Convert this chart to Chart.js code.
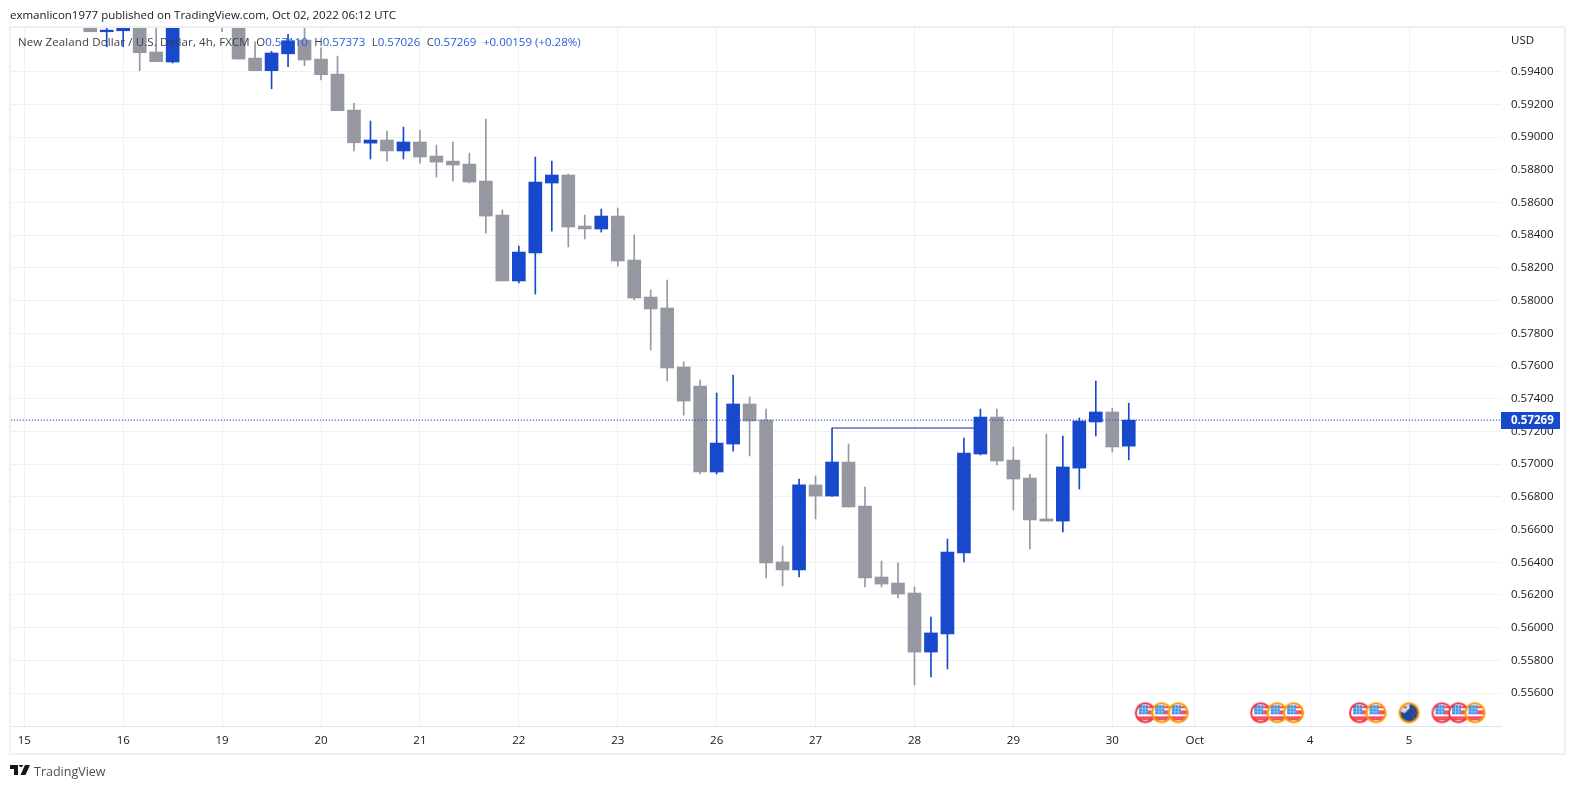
<!DOCTYPE html>
<html>
<head>
<meta charset="utf-8">
<title>NZDUSD 4h</title>
<script src="https://cdn.jsdelivr.net/npm/chart.js@4"></script>
<style>
  html, body { margin: 0; padding: 0; background: #fff; overflow: hidden; }
  body { width: 1575px; height: 789px; position: relative; font-family: "Open Sans", sans-serif; color: #131722; }
  canvas { position: absolute; left: 0; top: 0; }
  .txt { position: absolute; white-space: pre; font-size: 11.5px; line-height: 16px; }
  .frame { position: absolute; left: 9px; top: 26px; width: 1553px; height: 725px; border: 2px solid #eef0f6; pointer-events: none; }
  #legend { color: #3a3e4a; }
  #legend span { letter-spacing: 0.12px; }
  #legend b { font-weight: normal; color: #2a5bd7; }
  #legend i { font-style: normal; margin-left: 6.500px; }
</style>
</head>
<body>
<canvas id="chart" width="1575" height="789"></canvas>
<div class="frame"></div>
<div class="txt" style="left:10px;top:7px">exmanlicon1977 published on TradingView.com, Oct 02, 2022 06:12 UTC</div>
<div class="txt" id="legend" style="left:18px;top:34px"><span>New Zealand Dollar / U.S. Dollar, 4h, FXCM</span><i>O<b>0.57110</b></i><i>H<b>0.57373</b></i><i>L<b>0.57026</b></i><i>C<b>0.57269</b></i><i><b>+0.00159 (+0.28%)</b></i></div>
<div class="txt" style="left:1511px;top:32px">USD</div>
<svg style="position:absolute;left:10px;top:765px" width="20" height="11" viewBox="0 0 20 11">
  <path d="M0 0h8v10H4V4H0zM9 0a2 2 0 1 1 0 .01zM15 0h5l-4.500 10h-5z" fill="#131722"/>
</svg>
<div class="txt" style="left:34px;top:764px;font-size:12.5px;color:#4a4e59">TradingView</div>

<script>
// bar slots: 0 is the 4h bar on the 15th gridline, the data starts at slot 4
const firstBar = 4;
const opens = [0.59691,0.59644,0.5965,0.59716,0.5952,0.59459,0.5977,0.5972,0.598,0.597,0.59483,0.59406,0.59509,0.59593,0.59477,0.59385,0.59165,0.58963,0.58982,0.58915,0.5897,0.58884,0.58853,0.58835,0.58731,0.58523,0.5812,0.58291,0.58719,0.58768,0.58456,0.58438,0.58517,0.58248,0.58022,0.57955,0.57594,0.57478,0.56952,0.57123,0.57368,0.5727,0.56402,0.56353,0.56873,0.56805,0.57013,0.56744,0.5631,0.56273,0.56212,0.55851,0.55962,0.56457,0.57062,0.57288,0.57025,0.56915,0.56665,0.56652,0.56976,0.57258,0.57319,0.5711];
const highs = [0.59716,0.59685,0.5971,0.5976,0.59665,0.5974,0.598,0.5985,0.5983,0.5972,0.59583,0.59524,0.59628,0.5969,0.59546,0.59495,0.59206,0.59098,0.59037,0.59061,0.59043,0.58951,0.5897,0.58902,0.5911,0.58554,0.58334,0.58878,0.58853,0.58774,0.58523,0.5856,0.58566,0.58401,0.58065,0.58126,0.57625,0.57514,0.57435,0.57545,0.57411,0.57337,0.565,0.56909,0.56928,0.57221,0.57123,0.5686,0.56408,0.56396,0.56249,0.56065,0.56542,0.5716,0.57337,0.57337,0.57105,0.5694,0.57184,0.57172,0.57282,0.57508,0.57343,0.57373];
const lows = [0.59644,0.59552,0.59552,0.59406,0.59461,0.59453,0.597,0.5969,0.59644,0.59477,0.59406,0.59295,0.5943,0.59436,0.59349,0.59161,0.58916,0.58866,0.58853,0.58866,0.58841,0.58756,0.58731,0.58719,0.58413,0.5812,0.58108,0.5804,0.58425,0.58328,0.58377,0.58419,0.58211,0.58004,0.57698,0.57508,0.573,0.5694,0.5694,0.5708,0.5705,0.56304,0.56255,0.5631,0.56665,0.56805,0.56738,0.56249,0.56249,0.56182,0.5565,0.55699,0.55748,0.56402,0.57056,0.56995,0.5672,0.56481,0.56652,0.56585,0.56848,0.57172,0.57074,0.57026];
const closes = [0.59644,0.59654,0.59685,0.59516,0.59461,0.59716,0.5972,0.598,0.597,0.59477,0.59406,0.59514,0.59589,0.59471,0.59381,0.59161,0.58965,0.58982,0.58915,0.5897,0.58878,0.58847,0.58829,0.58725,0.58517,0.5812,0.58297,0.58725,0.58768,0.5845,0.58438,0.58517,0.58242,0.58016,0.57949,0.57588,0.57386,0.56952,0.57129,0.57368,0.57264,0.56396,0.56353,0.56873,0.56805,0.57013,0.56738,0.56304,0.56267,0.56206,0.55851,0.55968,0.56463,0.57068,0.57288,0.57019,0.56909,0.56659,0.56652,0.56983,0.57264,0.57319,0.57105,0.57269];

// x axis labels and the slot they sit on
const dayLabels = ["15","16","19","20","21","22","23","26","27","28","29","30","Oct","4","5"];
const daySlots = [0,6,12,18,24,30,36,42,48,54,60,66,71,78,84];
const priceTicks = [0.556,0.558,0.56,0.562,0.564,0.566,0.568,0.57,0.572,0.574,0.576,0.578,0.58,0.582,0.584,0.586,0.588,0.59,0.592,0.594];

// trendline drawn on the chart, between two slots
const levelSlots = [49,58];
const levelPrice = 0.57221;

// economic calendar markers
const eventPrice = 0.5548;
const usHighSlots = [68,75,81,86,87];
const usMedSlots = [69,70,76,77,82,88];
const nzMedSlots = [84];

const BLUE = "#1848cc";
const GREY = "#9598a1";
const RED = "#f23645";
const ORANGE = "#ff9800";
const GRID = "#f0f1f4";

const slots = opens.map((o, i) => firstBar + i);
const candleColors = opens.map((o, i) => closes[i] >= o ? BLUE : GREY);
const lastClose = closes[closes.length - 1];

function flagCanvas(ring, paint) {
  const c = document.createElement("canvas");
  c.width = c.height = 23;
  const g = c.getContext("2d");
  g.beginPath(); g.arc(11.5, 11.5, 10, 0, Math.PI * 2); g.fillStyle = "#fff"; g.fill();
  g.save(); g.clip();
  paint(g);
  g.restore();
  g.beginPath(); g.arc(11.5, 11.5, 9.5, 0, Math.PI * 2); g.strokeStyle = ring; g.lineWidth = 2; g.stroke();
  return c;
}

function usFlag(ring) {
  return flagCanvas(ring, g => {
    g.fillStyle = "#f7525f";
    g.fillRect(13, 5, 9, 2); g.fillRect(13, 9, 9, 4); g.fillRect(0, 15, 23, 4);
    g.fillStyle = "#3d8ee6";
    g.fillRect(5, 4, 9, 9);
    g.fillStyle = "#8fc2f2";
    g.fillRect(8, 4, 1, 9); g.fillRect(11, 4, 1, 9); g.fillRect(5, 7, 9, 1); g.fillRect(5, 10, 9, 1);
  });
}

function nzFlag(ring) {
  return flagCanvas(ring, g => {
    g.fillStyle = "#1a4a9c"; g.fillRect(0, 0, 23, 23);
    g.fillStyle = "#d7d9ea";
    g.beginPath(); g.moveTo(3, 3); g.lineTo(12, 3); g.lineTo(12, 7); g.lineTo(7, 12); g.lineTo(3, 10); g.fill();
    g.fillStyle = "#e4526a"; g.fillRect(6, 5, 3, 2);
    g.fillStyle = "#d8344a";
    [[15, 7], [17, 11], [14, 13], [15, 16]].forEach(s => g.fillRect(s[0], s[1], 1.5, 1.5));
  });
}

function eventDataset(list, icon) {
  return {
    type: "line",
    data: list.map(s => ({ x: s, y: eventPrice })),
    showLine: false,
    pointStyle: icon,
    pointRadius: 11,
    order: 0
  };
}

// the blue tag with the last price on the right axis
const priceTag = {
  id: "priceTag",
  afterDraw(chart) {
    const y = Math.round(chart.scales.y.getPixelForValue(lastClose));
    const ctx = chart.ctx;
    ctx.save();
    ctx.fillStyle = BLUE;
    ctx.fillRect(1501, y - 8, 59, 17);
    ctx.fillStyle = "#fff";
    ctx.font = "bold 11.5px 'Open Sans'";
    ctx.textBaseline = "middle";
    ctx.fillText(lastClose.toFixed(5), 1511, y + 1);
    ctx.restore();
  }
};

// axes keep the exact size, no room made for overhanging labels
function fixAxis(axis, w, h) {
  if (w) axis.width = w;
  if (h) axis.height = h;
  axis.paddingLeft = axis.paddingRight = axis.paddingTop = axis.paddingBottom = 0;
}

new Chart(document.getElementById("chart"), {
  type: "bar",
  data: {
    datasets: [
      {
        data: slots.map((s, i) => ({ x: s, y: [opens[i], closes[i]] })),
        backgroundColor: candleColors,
        barThickness: 13,
        grouped: false,
        order: 3
      },
      {
        data: slots.map((s, i) => ({ x: s, y: [lows[i], highs[i]] })),
        backgroundColor: candleColors,
        barThickness: 1,
        grouped: false,
        order: 4
      },
      {
        type: "line",
        data: levelSlots.map(s => ({ x: s, y: levelPrice })),
        borderColor: "#2a1fa0",
        borderWidth: 1,
        pointRadius: 0,
        order: 3.5
      },
      {
        type: "line",
        data: [{ x: -1, y: lastClose }, { x: 90, y: lastClose }],
        borderColor: BLUE,
        borderWidth: 1.2,
        borderDash: [1, 2],
        pointRadius: 0,
        order: 2
      },
      eventDataset(usMedSlots, usFlag(ORANGE)),
      eventDataset(nzMedSlots, nzFlag(ORANGE)),
      eventDataset(usHighSlots, usFlag(RED))
    ]
  },
  options: {
    responsive: false,
    animation: false,
    layout: { autoPadding: false, padding: { left: 10, top: 27, right: 10, bottom: 36 } },
    plugins: { legend: { display: false }, tooltip: { enabled: false } },
    scales: {
      x: {
        type: "linear",
        offset: false,
        min: -0.867,
        max: 89.58,
        afterBuildTicks: axis => { axis.ticks = daySlots.map(v => ({ value: v })); },
        afterFit: axis => fixAxis(axis, 0, 27),
        grid: { color: GRID, drawTicks: false, offset: false },
        border: { color: "#e0e3eb", width: 1 },
        ticks: {
          autoSkip: false,
          maxRotation: 0,
          padding: 8,
          color: "#131722",
          font: { family: "'Open Sans'", size: 11.5 },
          callback: v => dayLabels[daySlots.indexOf(v)]
        }
      },
      y: {
        position: "right",
        min: 0.55399,
        max: 0.59673,
        afterBuildTicks: axis => { axis.ticks = priceTicks.map(v => ({ value: v })); },
        afterFit: axis => fixAxis(axis, 64, 0),
        grid: { color: GRID, drawTicks: false },
        border: { display: false },
        ticks: {
          autoSkip: false,
          padding: 10,
          color: "#131722",
          font: { family: "'Open Sans'", size: 11.5 },
          callback: v => v.toFixed(5)
        }
      }
    }
  },
  plugins: [priceTag]
});
</script>
</body>
</html>
